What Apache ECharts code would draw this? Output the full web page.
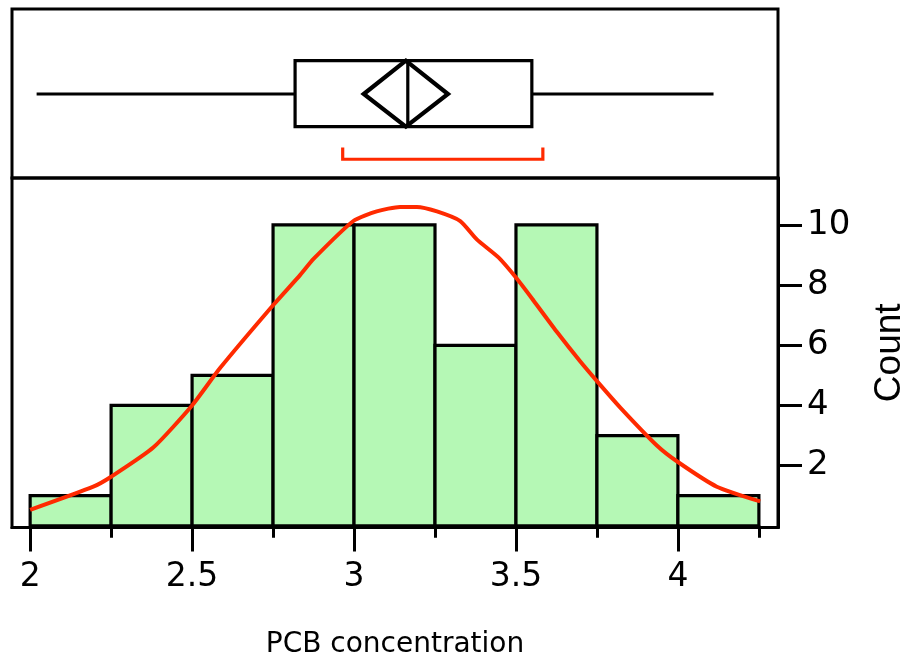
<!DOCTYPE html>
<html><head><meta charset="utf-8">
<script src="https://cdn.jsdelivr.net/npm/echarts@6/dist/echarts.min.js"></script>
<style>html,body{margin:0;padding:0;background:#fff}#c{width:907px;height:659px}</style>
</head><body><div id="c"></div>
<script>
// ---- data ----
const binEdges = [2, 2.25, 2.5, 2.75, 3, 3.25, 3.5, 3.75, 4, 4.25];
const counts = [1, 4, 5, 10, 10, 6, 10, 3, 1];
const xMajorTicks = [2, 2.5, 3, 3.5, 4];
const xMinorTicks = [2.25, 2.75, 3.25, 3.75, 4.25];
const yTicks = [2, 4, 6, 8, 10];
const curveX = [2.0, 2.195, 2.25, 2.38, 2.5, 2.587, 2.75, 2.834, 2.875, 2.998, 3.07, 3.142, 3.194, 3.256, 3.328, 3.379, 3.446, 3.503, 3.554, 3.626, 3.698, 3.75, 3.822, 3.935, 4.0, 4.12, 4.254];
const curveY = [0.53, 1.30, 1.63, 2.6, 4.0, 5.25, 7.33, 8.34, 8.87, 10.13, 10.45, 10.6, 10.6, 10.45, 10.13, 9.52, 8.92, 8.21, 7.49, 6.45, 5.47, 4.81, 3.93, 2.67, 2.12, 1.30, 0.81];
const boxStats = [2.02, 2.818, 3.166, 3.549, 4.11]; // min, q1, median, q3, max
const meanDiamond = [3.03, 3.16, 3.29];            // lower CI, mean, upper CI
const shortestHalf = [2.965, 3.583];

// ---- derived ----
const histData = counts.map((c, i) => [binEdges[i], binEdges[i + 1], c]);
const curveData = curveX.map((x, i) => [x, curveY[i]]);
const XMIN = 1.944, XMAX = 4.309;

const chart = echarts.init(document.getElementById('c'), null, {renderer: 'canvas'});
const frame = {show: true, borderColor: '#000', borderWidth: 3, backgroundColor: 'transparent', containLabel: false, outerBoundsMode: 'none'};
const RED = '#ff2a00';

chart.setOption({
  animation: false,
  backgroundColor: '#fff',
  grid: [
    Object.assign({left: 12, right: 129, top: 9, height: 169}, frame),
    Object.assign({left: 12, right: 129, top: 178, bottom: 131.4}, frame)
  ],
  xAxis: [
    {gridIndex: 0, type: 'value', min: XMIN, max: XMAX, show: false},
    {gridIndex: 1, type: 'value', min: XMIN, max: XMAX, position: 'bottom',
      axisLine: {show: true, onZero: false, lineStyle: {color: '#000', width: 3}},
      axisTick: {show: true, customValues: xMajorTicks, length: 24, lineStyle: {color: '#000', width: 3}},
      axisLabel: {show: true, customValues: xMajorTicks, color: '#000', fontSize: 33, fontFamily: 'DejaVu Sans', margin: 33},
      splitLine: {show: false},
      name: 'PCB concentration', nameLocation: 'middle', nameGap: 103,
      nameTextStyle: {color: '#000', fontSize: 28, fontFamily: 'DejaVu Sans'}
    },
    {gridIndex: 1, type: 'value', min: XMIN, max: XMAX, position: 'bottom',
      axisLine: {show: false},
      axisTick: {show: true, customValues: xMinorTicks, length: 12, lineStyle: {color: '#000', width: 3}},
      axisLabel: {show: false}, splitLine: {show: false}
    }
  ],
  yAxis: [
    {gridIndex: 0, type: 'value', min: 0, max: 1, inverse: true, show: false},
    {gridIndex: 1, type: 'value', min: -0.06, max: 11.56, position: 'right',
      axisLine: {show: true, lineStyle: {color: '#000', width: 3}},
      axisTick: {show: true, customValues: yTicks, length: 24, lineStyle: {color: '#000', width: 3}},
      axisLabel: {show: true, customValues: yTicks, color: '#000', fontSize: 34, fontFamily: 'DejaVu Sans', margin: 29},
      splitLine: {show: false},
      name: 'Count', nameLocation: 'middle', nameRotate: 90, nameGap: 93,
      nameTextStyle: {color: '#000', fontSize: 37, fontFamily: 'Liberation Sans'}
    }
  ],
  series: [
    {
      type: 'custom', xAxisIndex: 1, yAxisIndex: 1, data: histData, clip: true,
      renderItem: function (params, api) {
        const p0 = api.coord([api.value(0), api.value(2)]);
        const p1 = api.coord([api.value(1), 0]);
        return {type: 'rect', shape: {x: p0[0], y: p0[1], width: p1[0] - p0[0], height: p1[1] - p0[1]},
          style: {fill: '#b5f8b5', stroke: '#000', lineWidth: 3.2}};
      }
    },
    {
      type: 'line', xAxisIndex: 1, yAxisIndex: 1, data: curveData, showSymbol: false, smooth: 0.2,
      lineStyle: {color: RED, width: 4}, z: 5
    },
    {
      type: 'custom', xAxisIndex: 0, yAxisIndex: 0, data: [[0]], clip: false,
      renderItem: function (params, api) {
        const yTop = 0.306, yMid = 0.503, yBot = 0.696, yBrTop = 0.82, yBr = 0.889;
        const c = (x, y) => api.coord([x, y]);
        const [mn, q1, md, q3, mx] = boxStats;
        const [lo, mean, hi] = meanDiamond;
        const black = {stroke: '#000', lineWidth: 3.2, fill: null};
        const a = c(q1, yTop), b = c(q3, yBot);
        return {type: 'group', children: [
          {type: 'line', shape: {x1: c(mn, yMid)[0], y1: c(mn, yMid)[1], x2: c(q1, yMid)[0], y2: c(q1, yMid)[1]}, style: black},
          {type: 'line', shape: {x1: c(q3, yMid)[0], y1: c(q3, yMid)[1], x2: c(mx, yMid)[0], y2: c(mx, yMid)[1]}, style: black},
          {type: 'rect', shape: {x: a[0], y: a[1], width: b[0] - a[0], height: b[1] - a[1]}, style: {stroke: '#000', lineWidth: 3.2, fill: '#fff'}},
          {type: 'line', shape: {x1: c(md, yTop)[0], y1: c(md, yTop)[1], x2: c(md, yBot)[0], y2: c(md, yBot)[1]}, style: black},
          {type: 'polygon', shape: {points: [c(lo, yMid), c(mean, yTop), c(hi, yMid), c(mean, yBot)]}, style: {stroke: '#000', lineWidth: 4.2, fill: null, lineJoin: 'miter'}},
          {type: 'polyline', shape: {points: [c(shortestHalf[0], yBrTop), c(shortestHalf[0], yBr), c(shortestHalf[1], yBr), c(shortestHalf[1], yBrTop)]}, style: {stroke: RED, lineWidth: 3.2, fill: null}}
        ]};
      }
    }
  ]
});
</script>
</body></html>
